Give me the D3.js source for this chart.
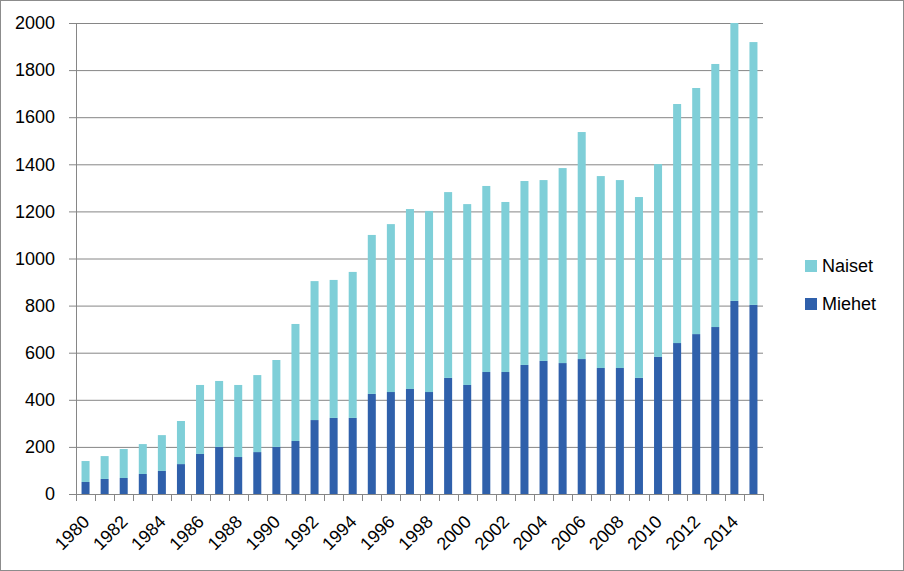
<!DOCTYPE html>
<html>
<head>
<meta charset="utf-8">
<script src="https://cdn.jsdelivr.net/npm/d3@7"></script>
<style>
  body { margin: 0; background: #fff; }
  text { font-family: "Liberation Sans", Arial, sans-serif; }
</style>
</head>
<body>
<svg width="904" height="571"></svg>
<script>
// years on the x axis
var years = d3.range(1980, 2016);

// men (bottom part of each bar)
var miehet = [51, 64, 68, 85, 98, 127, 170, 200, 157, 178, 200, 225,
  314, 323, 323, 425, 433, 446, 433, 493, 463, 518, 518, 548,
  565, 556, 573, 535, 535, 493, 582, 641, 679, 709, 820, 803];

// totals
var totals = [140, 161, 191, 212, 250, 310, 463, 480, 463, 505, 569, 722,
  904, 909, 943, 1100, 1146, 1210, 1202, 1282, 1231, 1308, 1240, 1329,
  1333, 1384, 1537, 1350, 1333, 1261, 1401, 1656, 1724, 1826, 2000, 1919];

// women = total - men
var naiset = totals.map(function(t, i) { return t - miehet[i]; });

var yTicks = d3.range(0, 2001, 200);
var series = ["Miehet", "Naiset"];
var colors = { Miehet: "#2f60ab", Naiset: "#7fcfd8" };

var svg = d3.select("svg"),
  margin = {top: 23, left: 76, right: 141, bottom: 77},
  width = +svg.attr("width") - margin.left - margin.right,
  height = +svg.attr("height") - margin.top - margin.bottom;

// outer frame
svg.append("rect")
  .attr("x", 0.5).attr("y", 0.5)
  .attr("width", 903).attr("height", 570)
  .attr("fill", "#fff")
  .attr("stroke", "#8c8c8c");

var g = svg.append("g")
  .attr("transform", "translate(" + margin.left + "," + margin.top + ")");

var x = d3.scaleBand().domain(years).range([0, width]).paddingInner(0.58).paddingOuter(0.29);
var y = d3.scaleLinear().domain([0, 2000]).range([height, 0]);

// gridlines + left axis
var yAxis = g.append("g")
  .call(d3.axisLeft(y).tickValues(yTicks).tickFormat(d3.format("d"))
    .tickSize(-width).tickPadding(21).tickSizeOuter(0));
yAxis.selectAll(".tick line")
  .attr("x1", -7)
  .attr("stroke", "#868686");
yAxis.select(".domain").remove();
yAxis.selectAll("text")
  .attr("font-size", 18)
  .attr("fill", "#000")
  .attr("font-family", "Liberation Sans, Arial, sans-serif");
g.append("line")
  .attr("x1", 0.5).attr("x2", 0.5)
  .attr("y1", 0).attr("y2", height)
  .attr("stroke", "#868686");

// stacked bars
var rows = years.map(function(yr, i) { return { year: yr, Miehet: miehet[i], Naiset: naiset[i] }; });
var stack = d3.stack().keys(series)(rows);

g.selectAll(".layer")
  .data(stack)
  .enter().append("g")
  .attr("fill", function(d) { return colors[d.key]; })
  .selectAll("rect")
  .data(function(d) { return d; })
  .enter().append("rect")
  .attr("x", function(d) { return x(d.data.year); })
  .attr("width", x.bandwidth())
  .attr("y", function(d) { return y(d[1]); })
  .attr("height", function(d) { return y(d[0]) - y(d[1]); });

// x axis line and ticks at category boundaries
var step = x.step();
g.append("line")
  .attr("x1", 0).attr("x2", width)
  .attr("y1", height + 0.5).attr("y2", height + 0.5)
  .attr("stroke", "#868686");
g.selectAll(".xtick")
  .data(d3.range(0, years.length + 1))
  .enter().append("line")
  .attr("x1", function(i) { return Math.round(i * step) + 0.5; })
  .attr("x2", function(i) { return Math.round(i * step) + 0.5; })
  .attr("y1", height).attr("y2", height + 7)
  .attr("stroke", "#868686");

// rotated year labels, every other year
g.selectAll(".xlab")
  .data(years.filter(function(yr) { return yr % 2 === 0; }))
  .enter().append("text")
  .attr("transform", function(yr) {
    return "translate(" + (x(yr) + x.bandwidth() / 2 + 5) + "," + (height + 29) + ") rotate(-45)";
  })
  .attr("text-anchor", "end")
  .attr("font-size", 18)
  .attr("fill", "#000")
  .text(function(yr) { return yr; });

// legend
var legendItems = ["Naiset", "Miehet"];
var lg = svg.selectAll(".legend")
  .data(legendItems)
  .enter().append("g")
  .attr("transform", function(d, i) { return "translate(805," + (260 + i * 38) + ")"; });
lg.append("rect")
  .attr("width", 12).attr("height", 12)
  .attr("fill", function(d) { return colors[d]; });
lg.append("text")
  .attr("x", 17).attr("y", 12)
  .attr("font-size", 18)
  .attr("fill", "#000")
  .text(function(d) { return d; });
</script>
</body>
</html>
